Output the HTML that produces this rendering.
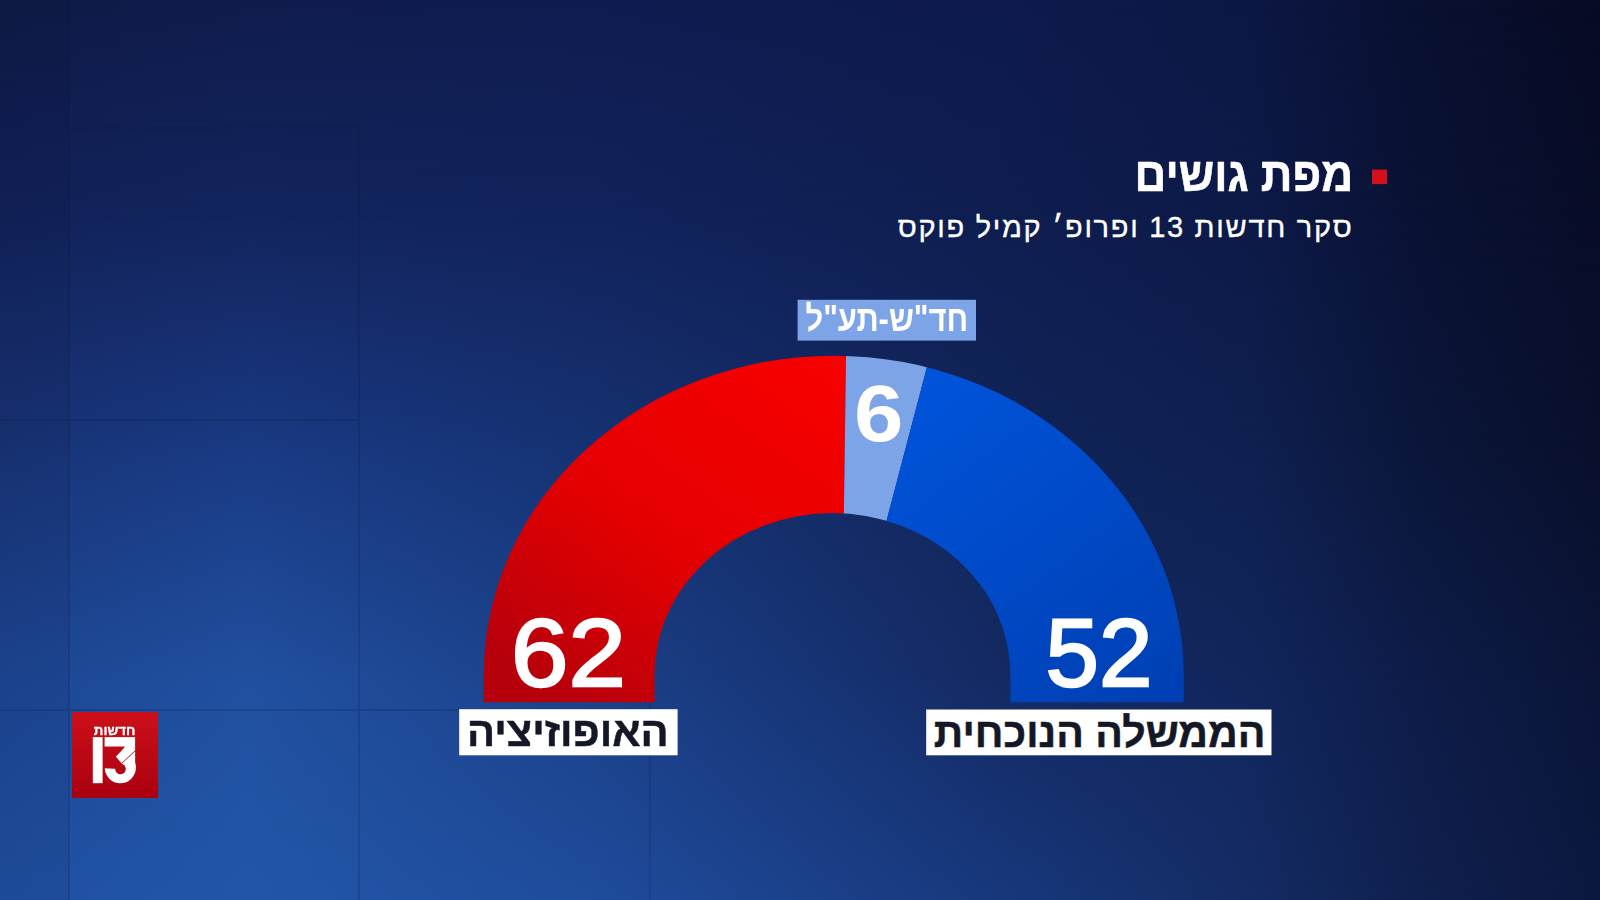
<!DOCTYPE html>
<html lang="he">
<head>
<meta charset="utf-8">
<style>
html,body{margin:0;padding:0;}
body{width:1600px;height:900px;overflow:hidden;position:relative;font-family:"Liberation Sans",sans-serif;
background:#142560;}
#bg{position:absolute;left:0;top:0;width:1600px;height:900px;}
.t{position:absolute;white-space:nowrap;direction:rtl;line-height:1;}
</style>
</head>
<body>
<svg id="bg" width="1600" height="900" viewBox="0 0 1600 900">
  <defs>
    <linearGradient id="gred" gradientUnits="userSpaceOnUse" x1="800" y1="360" x2="560" y2="700">
      <stop offset="0" stop-color="#f60000"/>
      <stop offset="0.55" stop-color="#e40000"/>
      <stop offset="1" stop-color="#b6000c"/>
    </linearGradient>
    <linearGradient id="gblue" gradientUnits="userSpaceOnUse" x1="900" y1="380" x2="1150" y2="700">
      <stop offset="0" stop-color="#0054dc"/>
      <stop offset="1" stop-color="#0040b4"/>
    </linearGradient>
    <clipPath id="ann">
      <path clip-rule="evenodd" d="M483.7,675 A350,319.5 0 0 1 1183.7,675 L1183.7,702.5 L483.7,702.5 Z M654.5,675 A178,162 0 0 1 1010.5,675 L1010.5,702.5 L654.5,702.5 Z"/>
    </clipPath>
    <clipPath id="bot"><rect x="0" y="0" width="1600" height="702.5"/></clipPath>
  </defs>
  <!--BG--><defs><linearGradient id="bgr0" gradientUnits="userSpaceOnUse" x1="0" y1="0" x2="1600" y2="0"><stop offset="0.0000" stop-color="#0f1a46"/><stop offset="0.1562" stop-color="#101c4c"/><stop offset="0.3750" stop-color="#0f1c50"/><stop offset="0.6250" stop-color="#0e1a4c"/><stop offset="0.7812" stop-color="#0c1744"/><stop offset="0.8875" stop-color="#091030"/><stop offset="1.0000" stop-color="#070b24"/></linearGradient><linearGradient id="bgr1" gradientUnits="userSpaceOnUse" x1="0" y1="0" x2="1600" y2="0"><stop offset="0.0000" stop-color="#12225a"/><stop offset="0.1562" stop-color="#13255e"/><stop offset="0.3750" stop-color="#12235c"/><stop offset="0.6250" stop-color="#0f1e50"/><stop offset="0.7812" stop-color="#0d1a48"/><stop offset="0.8875" stop-color="#0a1234"/><stop offset="1.0000" stop-color="#080d28"/></linearGradient><linearGradient id="bgr2" gradientUnits="userSpaceOnUse" x1="0" y1="0" x2="1600" y2="0"><stop offset="0.0000" stop-color="#183476"/><stop offset="0.1562" stop-color="#1a3a84"/><stop offset="0.3750" stop-color="#163272"/><stop offset="0.6250" stop-color="#112458"/><stop offset="0.7812" stop-color="#0f2050"/><stop offset="0.8875" stop-color="#0b163a"/><stop offset="1.0000" stop-color="#09102c"/></linearGradient><linearGradient id="bgr3" gradientUnits="userSpaceOnUse" x1="0" y1="0" x2="1600" y2="0"><stop offset="0.0000" stop-color="#1d4794"/><stop offset="0.1562" stop-color="#2150a0"/><stop offset="0.3750" stop-color="#1b4088"/><stop offset="0.6250" stop-color="#142a64"/><stop offset="0.7812" stop-color="#12265c"/><stop offset="0.8875" stop-color="#0e1c48"/><stop offset="1.0000" stop-color="#0b1538"/></linearGradient><linearGradient id="bgr4" gradientUnits="userSpaceOnUse" x1="0" y1="0" x2="1600" y2="0"><stop offset="0.0000" stop-color="#2050a2"/><stop offset="0.1562" stop-color="#2356a8"/><stop offset="0.3750" stop-color="#1f4c9c"/><stop offset="0.6250" stop-color="#18387c"/><stop offset="0.7812" stop-color="#142c64"/><stop offset="0.8875" stop-color="#10204e"/><stop offset="1.0000" stop-color="#0c1840"/></linearGradient><linearGradient id="bgm3" gradientUnits="userSpaceOnUse" x1="0" y1="680" x2="0" y2="900"><stop offset="0" stop-color="#fff"/><stop offset="1" stop-color="#000"/></linearGradient><mask id="bgk3" maskUnits="userSpaceOnUse" x="0" y="0" width="1600" height="900"><rect x="0" y="0" width="1600" height="900" fill="url(#bgm3)"/></mask><linearGradient id="bgm2" gradientUnits="userSpaceOnUse" x1="0" y1="450" x2="0" y2="680"><stop offset="0" stop-color="#fff"/><stop offset="1" stop-color="#000"/></linearGradient><mask id="bgk2" maskUnits="userSpaceOnUse" x="0" y="0" width="1600" height="900"><rect x="0" y="0" width="1600" height="900" fill="url(#bgm2)"/></mask><linearGradient id="bgm1" gradientUnits="userSpaceOnUse" x1="0" y1="220" x2="0" y2="450"><stop offset="0" stop-color="#fff"/><stop offset="1" stop-color="#000"/></linearGradient><mask id="bgk1" maskUnits="userSpaceOnUse" x="0" y="0" width="1600" height="900"><rect x="0" y="0" width="1600" height="900" fill="url(#bgm1)"/></mask><linearGradient id="bgm0" gradientUnits="userSpaceOnUse" x1="0" y1="0" x2="0" y2="220"><stop offset="0" stop-color="#fff"/><stop offset="1" stop-color="#000"/></linearGradient><mask id="bgk0" maskUnits="userSpaceOnUse" x="0" y="0" width="1600" height="900"><rect x="0" y="0" width="1600" height="900" fill="url(#bgm0)"/></mask></defs><rect x="0" y="0" width="1600" height="900" fill="url(#bgr4)"/><rect x="0" y="0" width="1600" height="900" fill="url(#bgr3)" mask="url(#bgk3)"/><rect x="0" y="0" width="1600" height="900" fill="url(#bgr2)" mask="url(#bgk2)"/><rect x="0" y="0" width="1600" height="900" fill="url(#bgr1)" mask="url(#bgk1)"/><rect x="0" y="0" width="1600" height="900" fill="url(#bgr0)" mask="url(#bgk0)"/><!--/BG-->
  <rect x="0" y="0" width="69" height="900" fill="#0a1230" opacity="0.07"/>
  <g fill="#0a1230" opacity="0.16">
    <rect x="68" y="0" width="2" height="900"/>
    <rect x="358" y="128" width="2" height="772"/>
    <rect x="649" y="420" width="2" height="480"/>
    <rect x="0" y="127" width="360" height="2"/>
    <rect x="0" y="419" width="360" height="2"/>
    <rect x="0" y="709" width="650" height="2"/>
  </g>

  <g clip-path="url(#bot)">
  <g clip-path="url(#ann)">
    <polygon fill="url(#gred)" points="400,300 846.74,300 842.74,600 842.74,720 400,720"/>
    <polygon fill="#7ea4e8" points="846.74,300 944.6,300 865.7,600 842.74,600"/>
    <polygon fill="url(#gblue)" points="944.6,300 1300,300 1300,720 865.7,720 865.7,600"/>
  </g>
  </g>
  <!-- title bullet -->
  <rect x="1372" y="169.6" width="15" height="14.5" fill="#d3101c"/>
  <!-- label box small -->
  <rect x="797.6" y="299.8" width="178.4" height="40.8" fill="#7ea4e8"/>
  <!-- white boxes -->
  <rect x="459.2" y="709.2" width="218.4" height="46.1" fill="#ffffff"/>
  <rect x="926.2" y="709.5" width="345.3" height="45.8" fill="#ffffff"/>
  <!-- logo -->
  <defs>
    <linearGradient id="glogo" gradientUnits="userSpaceOnUse" x1="0" y1="712" x2="0" y2="798">
      <stop offset="0" stop-color="#cc101a"/>
      <stop offset="1" stop-color="#aa0010"/>
    </linearGradient>
  </defs>
  <rect x="72" y="712" width="86" height="86" fill="url(#glogo)"/>
  <!-- 13 -->
  <g fill="#fff">
  <rect x="92.8" y="737.1" width="9.8" height="46.1"/>
  <rect x="104.6" y="737.1" width="30.5" height="9.6"/>
  <polygon points="125,746 135.1,746 135.1,768 119,768 115.9,756.7"/>
  <circle cx="120.3" cy="767.6" r="15.6"/>
  </g>
  <polygon fill="url(#glogo)" points="103.5,746.7 125,746.7 115.9,756.7 121.4,763.1 120.5,768.9 103.5,768.2"/>
  <circle fill="url(#glogo)" cx="120.5" cy="768.9" r="5.3"/>
  <line x1="135.8" y1="750.3" x2="121.6" y2="763.4" stroke="#b4000e" stroke-width="0.9"/>
</svg>

<div class="t" id="title" style="right:246.5px;top:151px;font-size:48px;font-weight:bold;color:#fff;-webkit-text-stroke:0.6px #fff;transform:scaleX(0.918);transform-origin:100% 50%;">מפת גושים</div>
<div class="t" id="sub" style="right:246.5px;top:213px;font-size:29px;letter-spacing:1.7px;color:#fff;-webkit-text-stroke:0.35px #fff;">סקר חדשות 13 ופרופ׳ קמיל פוקס</div>
<div class="t" id="party" style="right:631.5px;top:301px;font-size:36px;font-weight:bold;color:#fff;transform:scaleX(0.86);transform-origin:100% 50%;">חד"ש-תע"ל</div>
<div class="t" id="n6" style="left:854px;top:373.5px;font-size:80px;font-weight:bold;color:#fff;direction:ltr;transform:scaleX(1.11);transform-origin:0 50%;">6</div>
<div class="t" id="n62" style="left:511px;top:605px;font-size:96px;color:#fff;direction:ltr;-webkit-text-stroke:2.4px #fff;transform:scaleX(1.075);transform-origin:0 50%;">62</div>
<div class="t" id="n52" style="left:1045.5px;top:605px;font-size:96px;color:#fff;direction:ltr;-webkit-text-stroke:2.4px #fff;transform:scaleX(1.0);transform-origin:0 50%;">52</div>
<div class="t" id="opp" style="right:931px;top:711.5px;font-size:41px;font-weight:bold;color:#141826;-webkit-text-stroke:0.5px #141826;transform:scaleX(1.015);transform-origin:100% 50%;">האופוזיציה</div>
<div class="t" id="logot" style="right:1465px;top:723.5px;font-size:13px;font-weight:bold;color:#fff;-webkit-text-stroke:0.3px #fff;transform:scaleX(1.03);transform-origin:100% 50%;">חדשות</div>
<div class="t" id="gov" style="right:334.5px;top:713px;font-size:41px;font-weight:bold;color:#141826;-webkit-text-stroke:0.5px #141826;">הממשלה הנוכחית</div>
</body>
</html>
